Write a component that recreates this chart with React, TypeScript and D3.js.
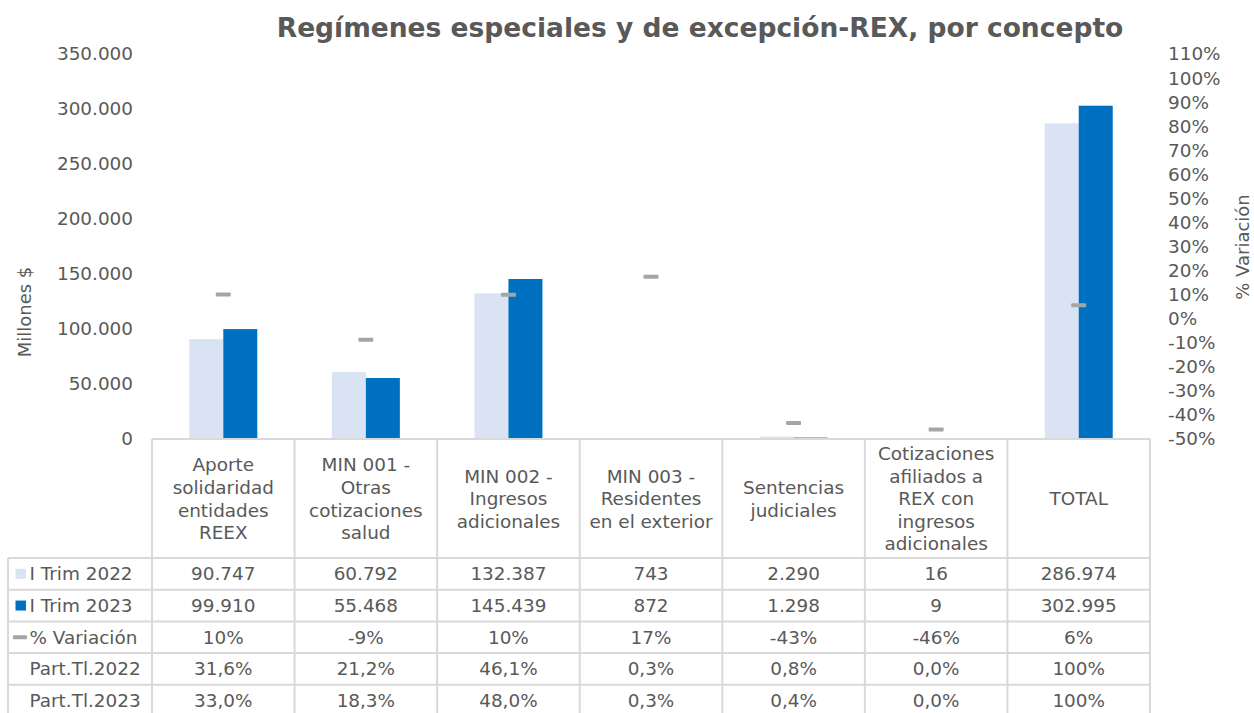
import React from "react";
import * as d3 from "d3";

// category header lines, as wrapped in the data table
const categories = [
  ["Aporte", "solidaridad", "entidades", "REEX"],
  ["MIN 001 -", "Otras", "cotizaciones", "salud"],
  ["MIN 002 -", "Ingresos", "adicionales"],
  ["MIN 003 -", "Residentes", "en el exterior"],
  ["Sentencias", "judiciales"],
  ["Cotizaciones", "afiliados a", "REX con", "ingresos", "adicionales"],
  ["TOTAL"],
];
const trim2022 = [90747, 60792, 132387, 743, 2290, 16, 286974];
const trim2023 = [99910, 55468, 145439, 872, 1298, 9, 302995];
const variacion = [0.101, -0.088, 0.099, 0.174, -0.433, -0.46, 0.056];
const variacionLabels = ["10%", "-9%", "10%", "17%", "-43%", "-46%", "6%"];
const partTl2022 = ["31,6%", "21,2%", "46,1%", "0,3%", "0,8%", "0,0%", "100%"];
const partTl2023 = ["33,0%", "18,3%", "48,0%", "0,3%", "0,4%", "0,0%", "100%"];
const leftTicks = [0, 50000, 100000, 150000, 200000, 250000, 300000, 350000];
const rightTicks = [-0.5, -0.4, -0.3, -0.2, -0.1, 0, 0.1, 0.2, 0.3, 0.4, 0.5, 0.6, 0.7, 0.8, 0.9, 1.0, 1.1];

const LIGHT = "#DAE3F3";
const DARK = "#0070C0";
const GREY = "#A5A5A5";
const TEXT = "#595959";
const BORDER = "#D9D9D9";
const FONT = "'DejaVu Sans', Verdana, sans-serif";

const es = d3.formatLocale({ decimal: ",", thousands: ".", grouping: [3], currency: ["$", ""], minus: "-" });
const fmtNum = es.format(",.0f");
const fmtPct = es.format(".0%");

export default function App() {
  const width = 1254;
  const height = 713;
  const ids = categories.map((c) => c.join(" "));

  const x = d3.scaleBand().domain(ids).range([152, 1150]);
  const bw = x.bandwidth();
  const groupW = bw * 0.477;
  const xs = d3.scaleBand().domain(["2022", "2023"]).range([0, groupW]);
  const yL = d3.scaleLinear().domain([0, 350000]).range([439, 54]);
  const yR = d3.scaleLinear().domain([-0.5, 1.1]).range([439, 54]);

  const rows = [
    { key: "I Trim 2022", cells: trim2022.map(fmtNum), legend: "square", color: LIGHT },
    { key: "I Trim 2023", cells: trim2023.map(fmtNum), legend: "square", color: DARK },
    { key: "% Variación", cells: variacionLabels, legend: "line", color: GREY },
    { key: "Part.Tl.2022", cells: partTl2022, legend: "none", color: "none" },
    { key: "Part.Tl.2023", cells: partTl2023, legend: "none", color: "none" },
  ];
  const rowH = 31.7;
  const yRow = d3.scaleBand().domain(rows.map((r) => r.key)).range([558, 558 + rows.length * rowH]);
  const tableBottom = 558 + rows.length * rowH;
  const fs = 18.4;

  return (
    <svg width={width} height={height} style={{ position: "absolute", left: 0, top: 0, background: "#fff" }} fontFamily={FONT}>
      <text x={700} y={37} textAnchor="middle" fontSize={26.5} fontWeight="bold" fill={TEXT}>
        Regímenes especiales y de excepción-REX, por concepto
      </text>

      {/* left axis */}
      {leftTicks.map((t) => (
        <text key={t} x={133} y={yL(t)} dy="0.35em" textAnchor="end" fontSize={fs} fill={TEXT}>
          {fmtNum(t)}
        </text>
      ))}
      <text transform={`translate(31,312) rotate(-90)`} textAnchor="middle" fontSize={18} fill={TEXT}>
        Millones $
      </text>

      {/* right axis */}
      {rightTicks.map((t) => (
        <text key={t} x={1168} y={yR(t)} dy="0.35em" textAnchor="start" fontSize={fs} fill={TEXT}>
          {fmtPct(t)}
        </text>
      ))}
      <text transform={`translate(1249,247) rotate(-90)`} textAnchor="middle" fontSize={18} fill={TEXT}>
        % Variación
      </text>

      {/* bars */}
      {ids.map((id, i) => {
        const x0 = (x(id) as number) + (bw - groupW) / 2;
        return (
          <g key={id}>
            <rect x={x0 + (xs("2022") as number)} y={yL(trim2022[i])} width={xs.bandwidth()} height={yL(0) - yL(trim2022[i])} fill={LIGHT} />
            <rect x={x0 + (xs("2023") as number)} y={yL(trim2023[i])} width={xs.bandwidth()} height={yL(0) - yL(trim2023[i])} fill={DARK} />
          </g>
        );
      })}

      {/* % variación markers */}
      {ids.map((id, i) => (
        <rect key={id} x={(x(id) as number) + bw / 2 - 7.5} y={yR(variacion[i]) - 2} width={15} height={4} rx={1} fill={GREY} />
      ))}

      {/* data table grid */}
      <g stroke={BORDER} strokeWidth={2}>
        <line x1={152} x2={1150} y1={439} y2={439} />
        {rows.map((r) => (
          <line key={r.key} x1={8} x2={1150} y1={yRow(r.key)} y2={yRow(r.key)} />
        ))}
        <line x1={8} x2={1150} y1={tableBottom} y2={tableBottom} />
        <line x1={8} x2={8} y1={558} y2={tableBottom} />
        {ids.map((id) => (
          <line key={id} x1={x(id)} x2={x(id)} y1={439} y2={tableBottom} />
        ))}
        <line x1={1150} x2={1150} y1={439} y2={tableBottom} />
      </g>

      {/* header labels */}
      {categories.map((lines, i) => {
        const cx = (x(ids[i]) as number) + bw / 2;
        const lh = 22.6;
        const top = 498.8 - ((lines.length - 1) * lh) / 2;
        return (
          <text key={ids[i]} textAnchor="middle" fontSize={fs} fill={TEXT}>
            {lines.map((l, j) => (
              <tspan key={j} x={cx} y={top + j * lh} dy="0.35em">
                {l}
              </tspan>
            ))}
          </text>
        );
      })}

      {/* rows */}
      {rows.map((r) => {
        const cy = (yRow(r.key) as number) + rowH / 2;
        return (
          <g key={r.key}>
            {r.legend === "square" && <rect x={15.5} y={cy - 5} width={10.5} height={10} fill={r.color} />}
            {r.legend === "line" && <rect x={13} y={cy - 2} width={14} height={4} rx={1} fill={r.color} />}
            <text x={29.5} y={cy} dy="0.35em" fontSize={fs} fill={TEXT}>
              {r.key}
            </text>
            {r.cells.map((c, i) => (
              <text key={i} x={(x(ids[i]) as number) + bw / 2} y={cy} dy="0.35em" textAnchor="middle" fontSize={fs} fill={TEXT}>
                {c}
              </text>
            ))}
          </g>
        );
      })}
    </svg>
  );
}
